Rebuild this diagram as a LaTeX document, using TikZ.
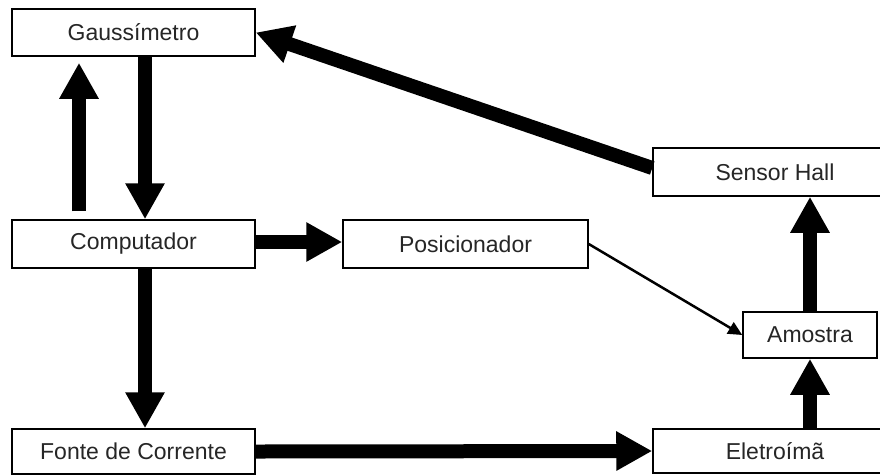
\documentclass[tikz,border=0pt]{standalone}
\usepackage{fontspec}
\setmainfont{Liberation Sans}
\usetikzlibrary{arrows.meta,calc}
\begin{document}
\begin{tikzpicture}[x=1pt,y=-1pt,
  box/.style={draw=black, line width=1.5pt, fill=white, inner sep=0pt,
    font=\fontsize{23}{27}\selectfont, text=black!85},
  big/.style={line width=14pt, -{Triangle[length=36pt,width=37pt]}},
  thinarrow/.style={line width=2.5pt, -{Triangle[length=14pt,width=13pt]}}]
\useasboundingbox (0,0) rectangle (880,475);
\fill[white] (0,0) rectangle (880,475);
\node[box, minimum width=243pt, minimum height=47pt] (gauss) at (133.5,32.5) {Gaussímetro};
\node[box, minimum width=243pt, minimum height=48pt] (comp) at (133.5,244) {Computador};
\node[box, minimum width=243pt, minimum height=45pt] (fonte) at (133.5,451.5) {Fonte de Corrente};
\node[box, minimum width=245pt, minimum height=48pt] (pos) at (465.5,244) {Posicionador};
\node[box, minimum width=244pt, minimum height=48pt] (sensor) at (775,172) {Sensor Hall};
\node[box, minimum width=134pt, minimum height=46pt] (amostra) at (810,335) {Amostra};
\node[box, minimum width=244pt, minimum height=44pt] (eletro) at (775,451) {Eletroímã};
% arrows
\draw[big] ($(comp.north)+(-54.5,-8)$) -- ($(gauss.south)+(-54.5,6)$);
\draw[big] ($(gauss.south)+(11.5,0)$) -- ($(comp.north)+(11.5,0)$);
\draw[big] ($(comp.south)+(11.5,0)$) -- ($(fonte.north)+(11.5,0)$);
\draw[big] ($(comp.east)+(0,-2)$) -- ($(pos.west)+(0,-2)$);
\draw[big] (fonte.east) -- (eletro.west);
\draw[big] (eletro.north -| amostra.south) -- (amostra.south);
\draw[big] (amostra.north) -- (sensor.south -| amostra.north);
\draw[big] ($(sensor.west)+(0,-4)$) -- (gauss.east);
\draw[thinarrow] (pos.east) -- (amostra.west);
\end{tikzpicture}
\end{document}
